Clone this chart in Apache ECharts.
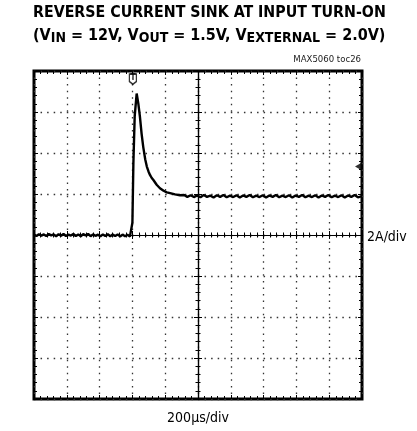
<!DOCTYPE html>
<html>
<head>
<meta charset="utf-8">
<script src="https://cdn.jsdelivr.net/npm/echarts@6/dist/echarts.min.js"></script>
<style>
  html, body { margin: 0; padding: 0; background: #fff; }
  #chart { width: 417px; height: 431px; }
</style>
</head>
<body>
<div id="chart"></div>
<script>
// 时间轴 (µs), 200µs/div, 10 格
const timeUs = [
  0, 15, 30, 45, 60, 75, 90, 105, 120, 135, 150, 165, 180, 195, 210, 225, 240,
  255, 270, 285, 300, 315, 330, 345, 360, 375, 390, 405, 420, 435, 450, 465,
  480, 495, 510, 525, 540, 555, 570, 585, 596,
  600, 606, 614, 626, 636, 646, 656, 666, 678, 688, 698, 708, 718, 728, 748,
  768, 790, 810, 830, 860, 890, 915, 935, 955, 975, 995, 1015, 1035, 1055,
  1075, 1095, 1115, 1135, 1155, 1175, 1195, 1215, 1235, 1255, 1275, 1295,
  1315, 1335, 1355, 1375, 1395, 1415, 1435, 1455, 1475, 1495, 1515, 1535,
  1555, 1575, 1595, 1615, 1635, 1655, 1675, 1695, 1715, 1735, 1755, 1775,
  1795, 1815, 1835, 1855, 1875, 1895, 1915, 1935, 1955, 1975, 2000
];
// 电流 (A), 2A/div
const currentA = [
  0.02, -0.05, 0.04, -0.03, 0.03, -0.05, 0.05, -0.02, 0.03, -0.06, 0.04, -0.04,
  0.05, -0.05, 0.02, -0.03, 0.05, -0.05, 0.03, -0.06, 0.04, -0.02, 0.05, -0.06,
  0.03, -0.04, 0.02, -0.07, 0.03, -0.05, 0.04, -0.06, 0.02, -0.05, 0.03, -0.07,
  0.02, -0.06, 0.01, -0.07, -0.04,
  0.6, 3.5, 5.8, 6.9, 6.42, 5.76, 4.95, 4.3, 3.7, 3.34, 3.1, 2.92, 2.78, 2.68,
  2.45, 2.28, 2.16, 2.08, 2.04, 1.98, 1.94, 1.95, 1.86, 1.94, 1.85, 1.93, 1.84,
  1.95, 1.86, 1.92, 1.83, 1.94, 1.86, 1.95, 1.84, 1.92, 1.85, 1.94, 1.83, 1.93,
  1.86, 1.95, 1.84, 1.92, 1.85, 1.94, 1.83, 1.93, 1.86, 1.95, 1.84, 1.92, 1.85,
  1.94, 1.83, 1.93, 1.86, 1.95, 1.84, 1.92, 1.85, 1.94, 1.83, 1.93, 1.86, 1.95,
  1.84, 1.92, 1.85, 1.94, 1.83, 1.93, 1.86, 1.95, 1.84, 1.9
];
// 触发标记 与 右侧电平标记
const triggerMark = [[603, 7.6]];
const levelMark = [[2000, 3.34]];

const traceData = timeUs.map((t, i) => [t, currentA[i]]);

const chart = echarts.init(document.getElementById('chart'));

const dotted = { type: [1.5, 5.06], color: '#333', width: 1.3 };
const black = { color: '#000', width: 1 };

// 边框刻度
const edgeX = (pos) => ({
  gridIndex: 0, type: 'value', min: 0, max: 2000, interval: 200, position: pos,
  axisLine: { show: false, onZero: false },
  axisTick: { show: true, inside: true, length: 4, lineStyle: black },
  minorTick: { show: true, splitNumber: 5, length: 3, lineStyle: black },
  axisLabel: { show: false },
  splitLine: { show: pos === 'bottom', lineStyle: dotted }
});
const edgeY = (pos) => ({
  gridIndex: 0, type: 'value', min: -8, max: 8, interval: 2, position: pos,
  axisLine: { show: false, onZero: false },
  axisTick: { show: true, inside: true, length: 4, lineStyle: black },
  minorTick: { show: true, splitNumber: 5, length: 3, lineStyle: black },
  axisLabel: { show: false },
  splitLine: { show: pos === 'left', lineStyle: dotted }
});
// 中心十字轴 (grid 1, 零点在中心)
const centerX = (pos) => ({
  gridIndex: 1, type: 'value', min: -1000, max: 1000, interval: 200, position: pos,
  axisLine: { show: true, onZero: true, onZeroAxisIndex: 2, lineStyle: { color: '#000', width: 1.2 } },
  axisTick: { show: true, length: 4, lineStyle: black },
  minorTick: { show: true, splitNumber: 5, length: 2.5, lineStyle: black },
  axisLabel: { show: false },
  splitLine: { show: false }
});
const centerY = (pos) => ({
  gridIndex: 1, type: 'value', min: -8, max: 8, interval: 2, position: pos,
  axisLine: { show: true, onZero: true, onZeroAxisIndex: 2, lineStyle: { color: '#000', width: 1.2 } },
  axisTick: { show: true, length: 4, lineStyle: black },
  minorTick: { show: true, splitNumber: 5, length: 2.5, lineStyle: black },
  axisLabel: { show: false },
  splitLine: { show: false }
});

const titleFont = '"DejaVu Sans Condensed", "Liberation Sans Narrow", sans-serif';
const smallFont = '"Liberation Sans Narrow", "DejaVu Sans Condensed", sans-serif';

const option = {
  animation: false,
  title: [
    {
      text: 'REVERSE CURRENT SINK AT INPUT TURN-ON',
      left: 33, top: 5, padding: 0,
      textStyle: { fontFamily: titleFont, fontWeight: 'bold', fontSize: 15.8, color: '#000' }
    },
    {
      text: '(V{sub|IN} = 12V, V{sub|OUT} = 1.5V, V{sub|EXTERNAL} = 2.0V)',
      left: 33, top: 27, padding: 0,
      textStyle: {
        fontFamily: titleFont, fontWeight: 'bold', fontSize: 16, color: '#000',
        rich: {
          sub: { fontFamily: titleFont, fontWeight: 'bold', fontSize: 14, color: '#000', padding: [4, 0, 0, 0] }
        }
      }
    },
    {
      text: 'MAX5060 toc26',
      right: 56, top: 55, padding: 0,
      textStyle: { fontFamily: smallFont, fontWeight: 'normal', fontSize: 9.5, color: '#222' }
    },
    {
      text: '2A/div',
      left: 367, top: 230, padding: 0,
      textStyle: { fontFamily: smallFont, fontWeight: 'normal', fontSize: 14, color: '#000' }
    },
    {
      text: '200µs/div',
      left: 198, textAlign: 'center', top: 411, padding: 0,
      textStyle: { fontFamily: smallFont, fontWeight: 'normal', fontSize: 14, color: '#000' }
    }
  ],
  grid: [
    { left: 34, top: 71, width: 328, height: 328, show: true, borderColor: '#000', borderWidth: 3, backgroundColor: 'transparent' },
    { left: 34, top: 71, width: 328, height: 328, show: false }
  ],
  xAxis: [edgeX('bottom'), edgeX('top'), centerX('bottom'), centerX('top')],
  yAxis: [edgeY('left'), edgeY('right'), centerY('left'), centerY('right')],
  series: [
    {
      type: 'line', xAxisIndex: 0, yAxisIndex: 0,
      data: traceData, showSymbol: false, smooth: false,
      lineStyle: { color: '#000', width: 2.4 }, z: 5
    },
    {
      type: 'scatter', xAxisIndex: 0, yAxisIndex: 0, data: triggerMark,
      symbol: 'path://M0,0 L10,0 L10,11 L5,15 L0,11 Z', symbolSize: [7, 10],
      itemStyle: { color: '#fff', borderColor: '#000', borderWidth: 1.5 },
      label: { show: true, formatter: 'T', position: 'inside', offset: [0, -1], fontSize: 8, fontWeight: 'bold', color: '#000', fontFamily: 'DejaVu Sans' },
      z: 6
    },
    {
      type: 'scatter', xAxisIndex: 0, yAxisIndex: 0, data: levelMark,
      symbol: 'triangle', symbolRotate: 90, symbolSize: [7, 6], symbolOffset: [-4, 0],
      itemStyle: { color: '#000' }, z: 6
    }
  ]
};

chart.setOption(option);
</script>
</body>
</html>
